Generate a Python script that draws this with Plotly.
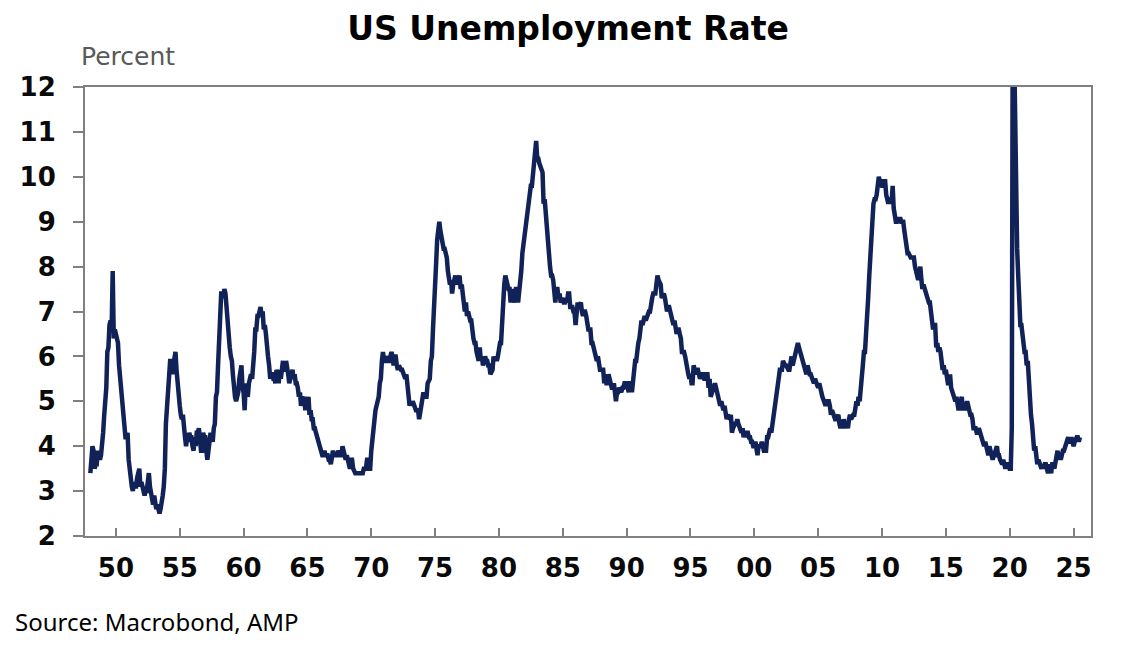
import pandas as pd
import plotly.graph_objects as go

# 美國失業率 (月資料, %), 1948-01 起
start_month = "1948-01-01"

rate_1940s = [
    3.4, 3.8, 4.0, 3.9, 3.5, 3.6, 3.6, 3.9, 3.8, 3.7, 3.8, 4.0,
    4.3, 4.7, 5.0, 5.3, 6.1, 6.2, 6.7, 6.8, 6.6, 7.9, 6.4, 6.6,
]
rate_1950s = [
    6.5, 6.4, 6.3, 5.8, 5.5, 5.4, 5.0, 4.5, 4.4, 4.2, 4.2, 4.3,
    3.7, 3.4, 3.4, 3.1, 3.0, 3.2, 3.1, 3.1, 3.3, 3.5, 3.5, 3.1,
    3.2, 3.1, 2.9, 2.9, 3.0, 3.0, 3.2, 3.4, 3.1, 3.0, 2.8, 2.7,
    2.9, 2.6, 2.6, 2.7, 2.5, 2.5, 2.6, 2.7, 2.9, 3.1, 3.5, 4.5,
    4.9, 5.2, 5.7, 5.9, 5.9, 5.6, 5.8, 6.0, 6.1, 5.7, 5.3, 5.0,
    4.9, 4.7, 4.6, 4.7, 4.3, 4.2, 4.0, 4.2, 4.1, 4.3, 4.2, 4.2,
    4.0, 3.9, 4.2, 4.0, 4.3, 4.3, 4.4, 4.1, 3.9, 3.9, 4.3, 4.2,
    4.2, 3.9, 3.7, 3.9, 4.1, 4.3, 4.2, 4.1, 4.4, 4.5, 5.1, 5.2,
    5.8, 6.4, 6.7, 7.4, 7.4, 7.3, 7.5, 7.4, 7.1, 6.7, 6.2, 6.2,
    6.0, 5.9, 5.6, 5.2, 5.1, 5.0, 5.1, 5.2, 5.5, 5.7, 5.8, 5.3,
]
rate_1960s = [
    5.2, 4.8, 5.4, 5.2, 5.1, 5.4, 5.5, 5.6, 5.5, 6.1, 6.1, 6.6,
    6.6, 6.9, 6.9, 7.0, 7.1, 6.9, 7.0, 6.6, 6.7, 6.5, 6.1, 6.0,
    5.8, 5.5, 5.6, 5.6, 5.5, 5.5, 5.4, 5.7, 5.6, 5.4, 5.7, 5.5,
    5.7, 5.9, 5.7, 5.7, 5.9, 5.6, 5.6, 5.4, 5.5, 5.5, 5.7, 5.5,
    5.6, 5.4, 5.4, 5.3, 5.1, 5.2, 4.9, 5.0, 5.1, 5.1, 4.8, 5.0,
    4.9, 5.1, 4.7, 4.8, 4.6, 4.6, 4.4, 4.4, 4.3, 4.2, 4.1, 4.0,
    4.0, 3.8, 3.8, 3.8, 3.9, 3.8, 3.8, 3.8, 3.7, 3.7, 3.6, 3.8,
    3.9, 3.8, 3.8, 3.8, 3.8, 3.9, 3.8, 3.8, 3.8, 4.0, 3.9, 3.8,
    3.7, 3.8, 3.7, 3.5, 3.5, 3.7, 3.7, 3.5, 3.4, 3.4, 3.4, 3.4,
    3.4, 3.4, 3.4, 3.4, 3.4, 3.5, 3.5, 3.5, 3.7, 3.7, 3.5, 3.5,
]
rate_1970s = [
    3.9, 4.2, 4.4, 4.6, 4.8, 4.9, 5.0, 5.1, 5.4, 5.5, 5.9, 6.1,
    5.9, 5.9, 6.0, 5.9, 5.9, 5.9, 6.0, 6.1, 6.0, 5.8, 6.0, 6.0,
    5.8, 5.7, 5.8, 5.7, 5.7, 5.7, 5.6, 5.6, 5.5, 5.6, 5.3, 5.2,
    4.9, 5.0, 4.9, 5.0, 4.9, 4.9, 4.8, 4.8, 4.8, 4.6, 4.8, 4.9,
    5.1, 5.2, 5.1, 5.1, 5.1, 5.4, 5.5, 5.5, 5.9, 6.0, 6.6, 7.2,
    8.1, 8.1, 8.6, 8.8, 9.0, 8.8, 8.6, 8.4, 8.4, 8.4, 8.3, 8.2,
    7.9, 7.7, 7.6, 7.7, 7.4, 7.6, 7.8, 7.8, 7.6, 7.7, 7.8, 7.8,
    7.5, 7.6, 7.4, 7.2, 7.0, 7.2, 6.9, 7.0, 6.8, 6.8, 6.8, 6.4,
    6.4, 6.3, 6.3, 6.1, 6.0, 5.9, 6.2, 5.9, 6.0, 5.8, 5.9, 6.0,
    5.9, 5.9, 5.8, 5.8, 5.6, 5.7, 5.7, 6.0, 5.9, 6.0, 5.9, 6.0,
]
rate_1980s = [
    6.3, 6.3, 6.3, 6.9, 7.5, 7.6, 7.8, 7.7, 7.5, 7.5, 7.5, 7.2,
    7.5, 7.4, 7.4, 7.2, 7.5, 7.5, 7.2, 7.4, 7.6, 7.9, 8.3, 8.5,
    8.6, 8.9, 9.0, 9.3, 9.4, 9.6, 9.8, 9.8, 10.1, 10.4, 10.8, 10.8,
    10.4, 10.4, 10.3, 10.2, 10.1, 10.1, 9.4, 9.5, 9.2, 8.8, 8.5, 8.3,
    8.0, 7.8, 7.8, 7.7, 7.4, 7.2, 7.5, 7.5, 7.3, 7.4, 7.2, 7.3,
    7.3, 7.2, 7.2, 7.3, 7.2, 7.4, 7.4, 7.1, 7.1, 7.1, 7.0, 7.0,
    6.7, 7.2, 7.2, 7.1, 7.2, 7.2, 7.0, 6.9, 7.0, 7.0, 6.9, 6.6,
    6.6, 6.6, 6.6, 6.3, 6.3, 6.2, 6.1, 6.0, 5.9, 6.0, 5.8, 5.7,
    5.7, 5.7, 5.7, 5.4, 5.6, 5.4, 5.4, 5.6, 5.4, 5.4, 5.3, 5.3,
    5.4, 5.2, 5.0, 5.2, 5.2, 5.3, 5.2, 5.2, 5.3, 5.3, 5.4, 5.4,
]
rate_1990s = [
    5.4, 5.3, 5.2, 5.4, 5.4, 5.2, 5.5, 5.7, 5.9, 5.9, 6.2, 6.3,
    6.4, 6.6, 6.8, 6.7, 6.9, 6.9, 6.8, 6.9, 6.9, 7.0, 7.0, 7.3,
    7.3, 7.4, 7.4, 7.4, 7.6, 7.8, 7.7, 7.6, 7.6, 7.3, 7.4, 7.4,
    7.3, 7.1, 7.0, 7.1, 7.1, 7.0, 6.9, 6.8, 6.7, 6.8, 6.6, 6.5,
    6.6, 6.6, 6.5, 6.4, 6.1, 6.1, 6.1, 6.0, 5.9, 5.8, 5.6, 5.5,
    5.6, 5.4, 5.4, 5.8, 5.6, 5.6, 5.7, 5.7, 5.6, 5.5, 5.6, 5.6,
    5.6, 5.5, 5.5, 5.6, 5.6, 5.3, 5.5, 5.1, 5.2, 5.2, 5.4, 5.4,
    5.3, 5.2, 5.2, 5.1, 4.9, 5.0, 4.9, 4.8, 4.9, 4.7, 4.6, 4.7,
    4.6, 4.6, 4.7, 4.3, 4.4, 4.5, 4.5, 4.5, 4.6, 4.5, 4.4, 4.4,
    4.3, 4.4, 4.2, 4.3, 4.2, 4.3, 4.3, 4.2, 4.2, 4.1, 4.1, 4.0,
]
rate_2000s = [
    4.0, 4.1, 4.0, 3.8, 4.0, 4.0, 4.0, 4.1, 3.9, 3.9, 3.9, 3.9,
    4.2, 4.2, 4.3, 4.4, 4.3, 4.5, 4.6, 4.9, 5.0, 5.3, 5.5, 5.7,
    5.7, 5.7, 5.7, 5.9, 5.8, 5.8, 5.8, 5.7, 5.7, 5.7, 5.9, 6.0,
    5.8, 5.9, 5.9, 6.0, 6.1, 6.3, 6.2, 6.1, 6.1, 6.0, 5.8, 5.7,
    5.7, 5.6, 5.8, 5.6, 5.6, 5.6, 5.5, 5.4, 5.4, 5.5, 5.4, 5.4,
    5.3, 5.4, 5.2, 5.2, 5.1, 5.0, 5.0, 4.9, 5.0, 5.0, 5.0, 4.9,
    4.7, 4.8, 4.7, 4.7, 4.6, 4.6, 4.7, 4.7, 4.5, 4.4, 4.5, 4.4,
    4.6, 4.5, 4.4, 4.5, 4.4, 4.6, 4.7, 4.6, 4.7, 4.7, 4.7, 5.0,
    5.0, 4.9, 5.1, 5.0, 5.4, 5.6, 5.8, 6.1, 6.1, 6.5, 6.8, 7.3,
    7.8, 8.3, 8.7, 9.0, 9.4, 9.5, 9.5, 9.6, 9.8, 10.0, 9.9, 9.9,
]
rate_2010s = [
    9.8, 9.8, 9.9, 9.9, 9.6, 9.4, 9.4, 9.5, 9.5, 9.4, 9.8, 9.3,
    9.1, 9.0, 9.0, 9.1, 9.0, 9.1, 9.0, 9.0, 9.0, 8.8, 8.6, 8.5,
    8.3, 8.3, 8.2, 8.2, 8.2, 8.2, 8.2, 8.0, 7.8, 7.8, 7.7, 7.9,
    8.0, 7.7, 7.5, 7.6, 7.5, 7.5, 7.3, 7.2, 7.2, 7.2, 6.9, 6.7,
    6.6, 6.7, 6.7, 6.2, 6.3, 6.1, 6.2, 6.1, 5.9, 5.7, 5.8, 5.6,
    5.7, 5.5, 5.4, 5.4, 5.6, 5.3, 5.2, 5.1, 5.0, 5.0, 5.1, 5.0,
    4.8, 4.9, 5.0, 5.1, 4.8, 4.9, 4.8, 4.9, 5.0, 4.9, 4.7, 4.7,
    4.7, 4.6, 4.4, 4.4, 4.4, 4.3, 4.3, 4.4, 4.3, 4.2, 4.2, 4.1,
    4.0, 4.1, 4.0, 4.0, 3.8, 4.0, 3.8, 3.8, 3.7, 3.8, 3.8, 3.9,
    4.0, 3.8, 3.8, 3.7, 3.6, 3.6, 3.7, 3.6, 3.5, 3.6, 3.6, 3.6,
]
rate_2020s = [
    3.5, 3.5, 4.4, 14.8, 13.2, 11.0, 10.2, 8.4, 7.8, 6.8, 6.7, 6.7,
    6.4, 6.2, 6.1, 6.1, 5.8, 5.9, 5.4, 5.1, 4.7, 4.5, 4.2, 3.9,
    4.0, 3.8, 3.6, 3.7, 3.6, 3.6, 3.5, 3.6, 3.5, 3.6, 3.6, 3.5,
    3.4, 3.6, 3.5, 3.4, 3.6, 3.6, 3.5, 3.7, 3.8, 3.9, 3.7, 3.8,
    3.7, 3.9, 3.9, 3.9, 4.0, 4.1, 4.2, 4.2, 4.1, 4.1, 4.2, 4.1,
    4.0, 4.1, 4.2, 4.2, 4.2, 4.1, 4.2,
]

rates = (rate_1940s + rate_1950s + rate_1960s + rate_1970s
         + rate_1980s + rate_1990s + rate_2000s + rate_2010s + rate_2020s)
dates = pd.date_range(start_month, periods=len(rates), freq="MS")

fig = go.Figure()

fig.add_trace(go.Scatter(
    x=dates,
    y=rates,
    mode="lines",
    line=dict(color="#102257", width=4.5),
    showlegend=False,
    hoverinfo="x+y",
))

tick_font = dict(family="DejaVu Sans", size=26, color="#0a0a0a", weight="bold")

# 頁面本身有 8px 邊距, 所以圖的尺寸與邊界都扣掉
fig.update_layout(
    width=1121,
    height=654,
    margin=dict(l=74, r=38, t=79, b=126),
    paper_bgcolor="white",
    plot_bgcolor="white",
    title=dict(
        text="US Unemployment Rate",
        font=dict(family="DejaVu Sans", size=33, color="#000000", weight="bold"),
        xref="container", x=0.4996, xanchor="center",
        yref="container", y=0.968, yanchor="middle",
    ),
    xaxis=dict(
        range=["1947-08-01", "2026-05-15"],
        tickformat="%y",
        tick0="1950-01-01",
        dtick="M60",
        ticks="inside",
        ticklen=8,
        tickcolor="#808080",
        tickwidth=2,
        ticklabelstandoff=8,
        showline=True,
        linecolor="#808080",
        linewidth=2,
        mirror=True,
        showgrid=False,
        zeroline=False,
        tickfont=tick_font,
    ),
    yaxis=dict(
        range=[2, 12],
        dtick=1,
        ticks="outside",
        ticklen=10,
        tickcolor="#808080",
        tickwidth=2,
        ticklabelstandoff=12,
        showline=True,
        linecolor="#808080",
        linewidth=2,
        mirror=True,
        showgrid=False,
        zeroline=False,
        tickfont=tick_font,
    ),
    annotations=[
        dict(
            text="Percent",
            xref="paper", yref="paper",
            x=-0.006, y=1.067,
            xanchor="left", yanchor="middle",
            showarrow=False,
            font=dict(family="DejaVu Sans", size=25, color="#595959"),
        ),
        dict(
            text="Source: Macrobond, AMP",
            xref="paper", yref="paper",
            x=-0.0714, y=-0.1915,
            xanchor="left", yanchor="middle",
            showarrow=False,
            font=dict(family="Noto Sans", size=24, color="#000000"),
        ),
    ],
)

fig.write_html("out.html")
